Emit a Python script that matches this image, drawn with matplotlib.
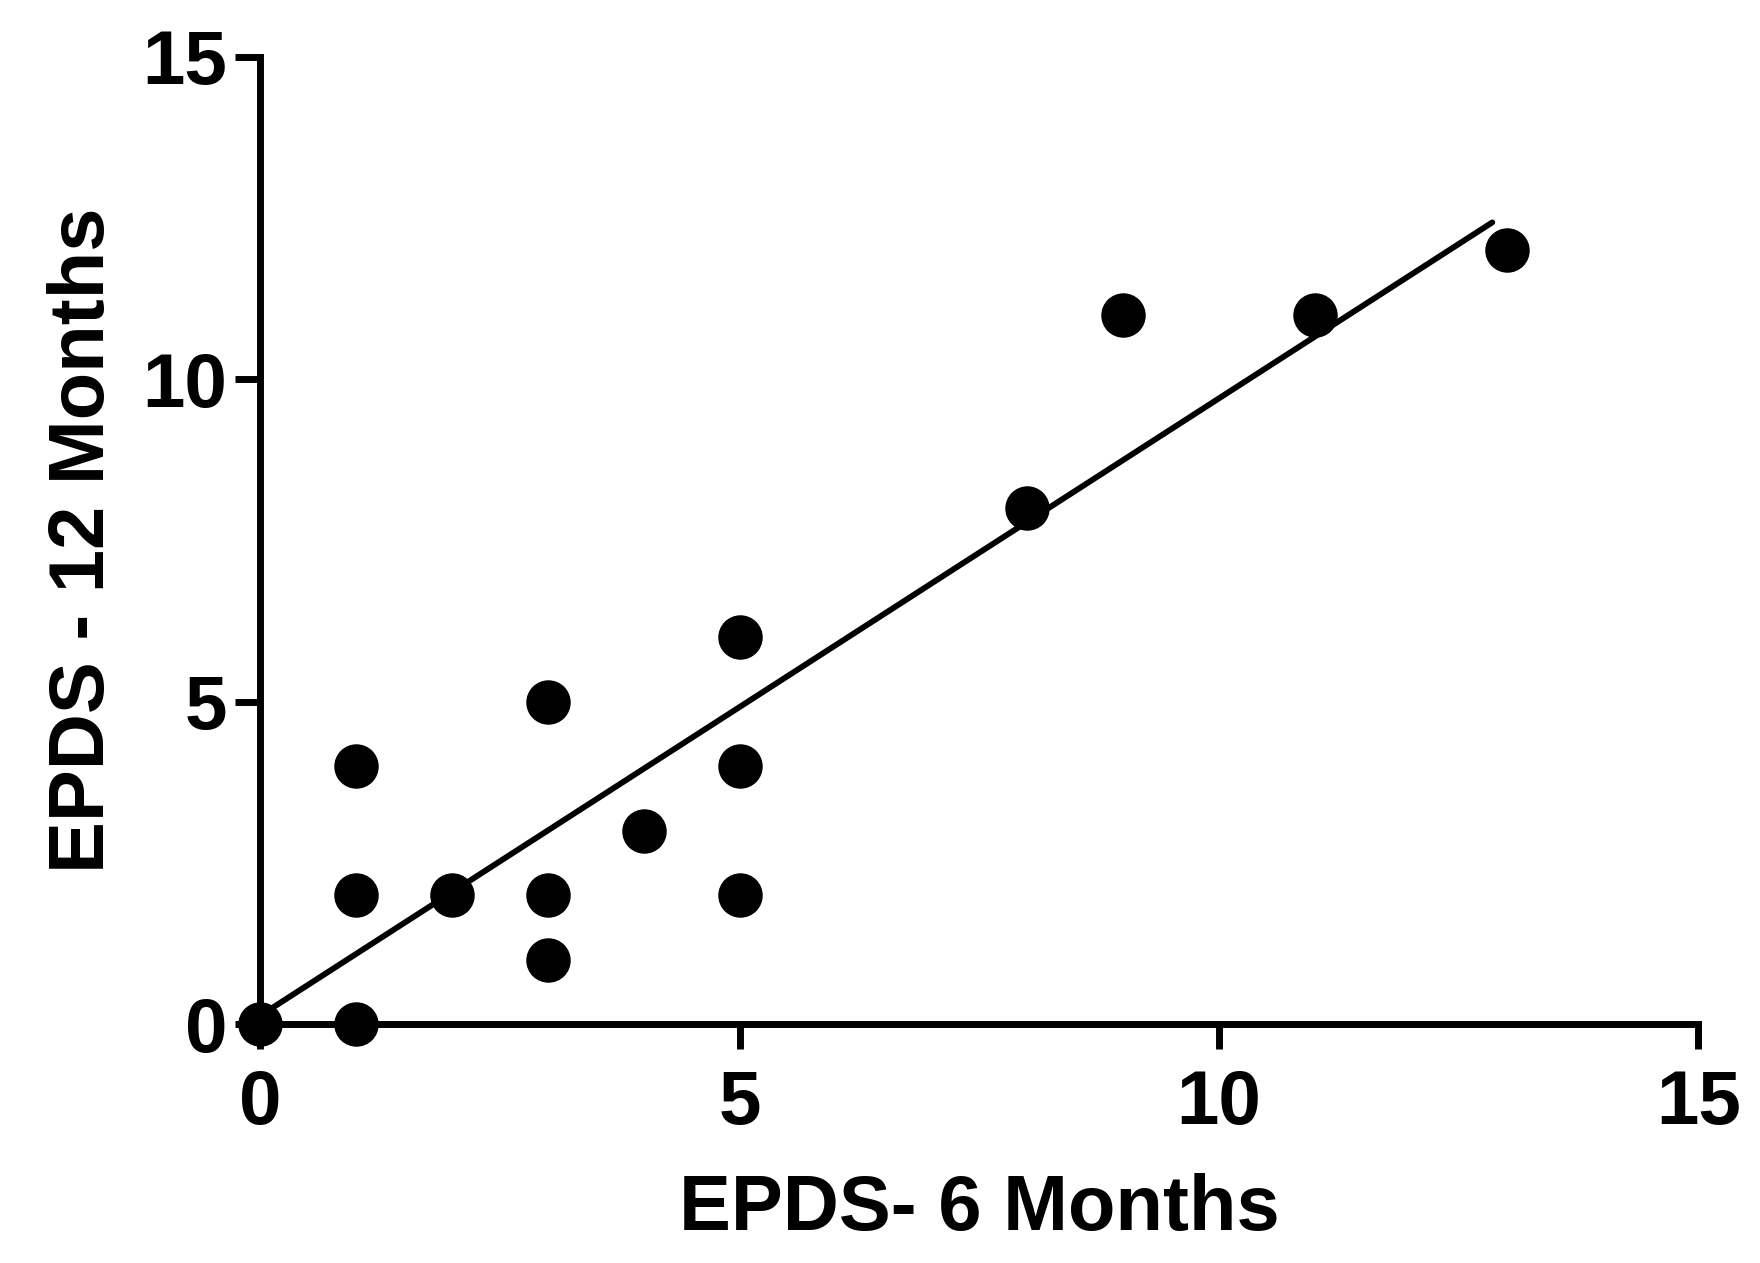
import numpy as np
from matplotlib import pyplot as plt

# EPDS scores per subject
epds_6m = [0, 1, 1, 1, 2, 3, 3, 3, 4, 5, 5, 5, 8, 9, 11, 13]
epds_12m = [0, 0, 2, 4, 2, 1, 2, 5, 3, 2, 4, 6, 8, 11, 11, 12]
ticks = [0, 5, 10, 15]
fit_x_range = [0, 12.85]


def plot_scatter():
    plt.rcParams['font.family'] = ['Liberation Sans', 'DejaVu Sans']
    plt.rcParams['font.weight'] = 'bold'

    fig = plt.figure(figsize=(17.6, 12.63), dpi=100)
    ax = fig.add_axes([0.148, 0.189, 0.817, 0.766])

    slope, intercept = np.polyfit(epds_6m, epds_12m, 1)
    fx = np.array(fit_x_range)
    ax.plot(fx, slope * fx + intercept, color='black', lw=4.2,
            solid_capstyle='round', zorder=2)

    ax.plot(epds_6m, epds_12m, 'o', color='black', markersize=31,
            clip_on=False, zorder=3)

    ax.set_xlim(0, 15)
    ax.set_ylim(0, 15)
    ax.set_xticks(ticks)
    ax.set_yticks(ticks)

    for side in ['top', 'right']:
        ax.spines[side].set_visible(False)
    for side in ['left', 'bottom']:
        ax.spines[side].set_linewidth(5)

    ax.tick_params(axis='both', which='major', labelsize=55, length=18,
                   width=5, direction='out')
    ax.tick_params(axis='x', pad=14)
    ax.tick_params(axis='y', pad=6)

    ax.set_xlabel('EPDS- 6 Months', fontsize=56, fontweight='bold',
                  labelpad=24)
    ax.set_ylabel('EPDS - 12 Months', fontsize=56, fontweight='bold',
                  labelpad=16)

    fig.savefig('out.png', dpi=100)


if __name__ == '__main__':
    plot_scatter()
